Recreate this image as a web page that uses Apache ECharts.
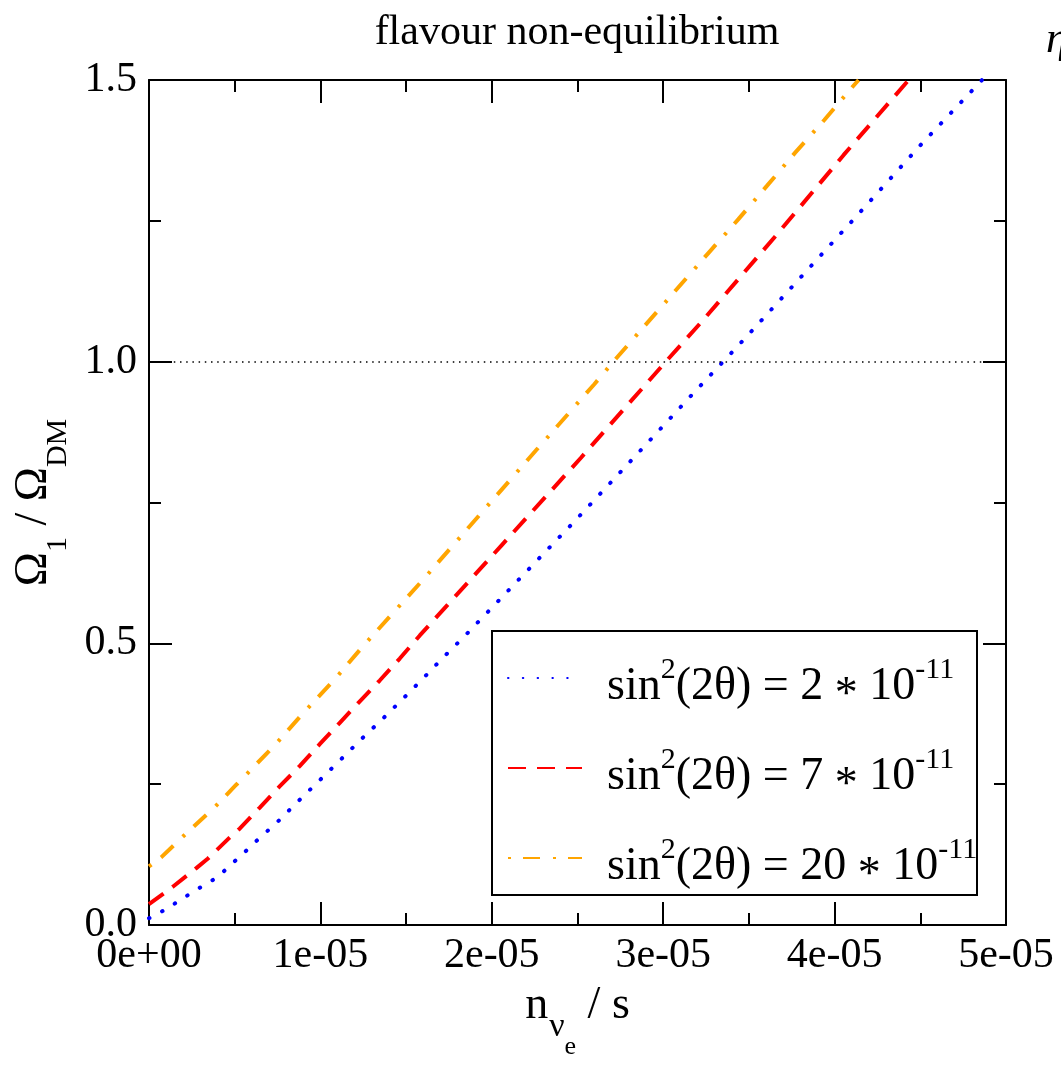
<!DOCTYPE html>
<html><head><meta charset="utf-8">
<script src="https://cdn.jsdelivr.net/npm/echarts@6/dist/echarts.min.js"></script>
<style>html,body{margin:0;padding:0;background:#fff}#c{width:1061px;height:1065px}</style>
</head><body><div id="c"></div>
<script>
const chartTitle = 'flavour non-equilibrium';
const cornerText = 'η';
const xTickLabels = ['0e+00', '1e-05', '2e-05', '3e-05', '4e-05', '5e-05'];
const yTickLabels = ['0.0', '0.5', '1.0', '1.5'];
const seriesNames = ['s2', 's7', 's20'];
const legendLabels = [
  '{a|sin}{s|2}{b|(2θ) = 2 }{m|*}{b| 10}{s|-11}',
  '{a|sin}{s|2}{b|(2θ) = 7 }{m|*}{b| 10}{s|-11}',
  '{a|sin}{s|2}{b|(2θ) = 20 }{m|*}{b| 10}{s|-11}'
];
const refLineValue = 1.0;

const xBlue = [0, 0.081e-5, 0.155e-5, 0.227e-5, 0.301e-5, 0.373e-5, 0.439e-5, 0.503e-5, 0.564e-5, 0.626e-5,
  0.753e-5, 0.875e-5, 0.996e-5, 1.113e-5, 1.239e-5, 1.360e-5, 1.483e-5, 1.600e-5, 1.720e-5, 1.839e-5,
  2.135e-5, 2.487e-5, 2.836e-5, 3.182e-5, 3.356e-5, 3.473e-5, 4.103e-5, 4.503e-5, 4.860e-5];
const yBlue = [0.012, 0.025, 0.039, 0.053, 0.067, 0.080, 0.096, 0.114, 0.131, 0.149,
  0.184, 0.221, 0.257, 0.292, 0.330, 0.365, 0.402, 0.438, 0.476, 0.512,
  0.606, 0.718, 0.832, 0.946, 1.002, 1.040, 1.250, 1.385, 1.500];

const xRed = [0, 0.139e-5, 0.276e-5, 0.344e-5, 0.470e-5, 0.529e-5, 0.645e-5, 0.762e-5, 0.879e-5, 0.996e-5,
  1.113e-5, 1.230e-5, 1.346e-5, 1.463e-5, 1.580e-5, 2.057e-5, 2.519e-5, 3.015e-5, 3.216e-5, 3.664e-5,
  4.053e-5, 4.432e-5];
const yRed = [0.037, 0.068, 0.101, 0.118, 0.155, 0.171, 0.208, 0.246, 0.282, 0.321,
  0.359, 0.397, 0.434, 0.473, 0.514, 0.674, 0.829, 1.000, 1.068, 1.226,
  1.367, 1.500];

const xOrange = [0, 0.071e-5, 0.198e-5, 0.383e-5, 0.509e-5, 0.564e-5, 0.739e-5, 0.908e-5, 1.083e-5, 1.249e-5,
  1.590e-5, 1.926e-5, 2.262e-5, 2.598e-5, 2.709e-5, 3.270e-5, 3.439e-5, 3.605e-5, 3.770e-5, 3.940e-5,
  4.105e-5, 4.140e-5];
const yOrange = [0.104, 0.120, 0.157, 0.209, 0.249, 0.266, 0.321, 0.379, 0.436, 0.495,
  0.610, 0.727, 0.844, 0.960, 1.000, 1.195, 1.253, 1.312, 1.371, 1.429,
  1.488, 1.500];

const FONT = 'Liberation Serif';
const zip = (xs, ys) => xs.map((x, i) => [x, ys[i]]);

function xAxisCfg(pos, showLabels) {
  return {
    type: 'value', position: pos, min: 0, max: 5e-5, interval: 1e-5,
    axisLine: { show: true, onZero: false, lineStyle: { color: '#000', width: 2 } },
    axisTick: { show: true, inside: true, length: 23, lineStyle: { color: '#000', width: 2 } },
    minorTick: { show: true, splitNumber: 2, length: 12, lineStyle: { color: '#000', width: 2 } },
    splitLine: { show: false }, minorSplitLine: { show: false },
    axisLabel: {
      show: showLabels, margin: 10, color: '#000', fontFamily: FONT, fontSize: 42,
      formatter: (v, i) => xTickLabels[i]
    }
  };
}
function yAxisCfg(pos, showLabels) {
  return {
    type: 'value', position: pos, min: 0, max: 1.5, interval: 0.5,
    axisLine: { show: true, onZero: false, lineStyle: { color: '#000', width: 2 } },
    axisTick: { show: true, inside: true, length: 23, lineStyle: { color: '#000', width: 2 } },
    minorTick: { show: true, splitNumber: 2, length: 12, lineStyle: { color: '#000', width: 2 } },
    splitLine: { show: false }, minorSplitLine: { show: false },
    axisLabel: {
      show: showLabels, margin: 12, color: '#000', fontFamily: FONT, fontSize: 42,
      formatter: (v, i) => yTickLabels[i]
    }
  };
}

const xBottom = xAxisCfg('bottom', true);
xBottom.name = '{n|n}{v|ν}{e|e}{n| / s}';
xBottom.nameLocation = 'middle';
xBottom.nameGap = 58;
xBottom.nameTextStyle = {
  color: '#000', fontFamily: FONT,
  rich: {
    n: { fontFamily: FONT, fontSize: 46, lineHeight: 46, verticalAlign: 'top', color: '#000' },
    v: { fontFamily: FONT, fontSize: 34, lineHeight: 34, padding: [27, 0, 0, 1], verticalAlign: 'top', color: '#000' },
    e: { fontFamily: FONT, fontSize: 26, lineHeight: 26, padding: [51, 0, 0, 0], verticalAlign: 'top', color: '#000' }
  }
};
const yLeft = yAxisCfg('left', true);
yLeft.name = '{B|Ω}{S|1}{B| / Ω}{S|DM}';
yLeft.nameLocation = 'middle';
yLeft.nameRotate = 90;
yLeft.nameGap = 74;
yLeft.nameTextStyle = {
  color: '#000', fontFamily: FONT,
  rich: {
    B: { fontFamily: FONT, fontSize: 46, lineHeight: 46, verticalAlign: 'top', color: '#000' },
    S: { fontFamily: FONT, fontSize: 30, lineHeight: 30, padding: [33, 0, 0, 0], verticalAlign: 'top', color: '#000' }
  }
};

const richLegend = {
  a: { fontFamily: FONT, fontSize: 46, lineHeight: 46, padding: [8.5, 0, 0, 20], verticalAlign: 'top', color: '#000' },
  b: { fontFamily: FONT, fontSize: 46, lineHeight: 46, padding: [8.5, 0, 0, 0], verticalAlign: 'top', color: '#000' },
  m: { fontFamily: FONT, fontSize: 46, lineHeight: 46, padding: [18, 0, 0, 0], verticalAlign: 'top', color: '#000' },
  s: { fontFamily: FONT, fontSize: 30, lineHeight: 30, verticalAlign: 'top', color: '#000' }
};

const chart = echarts.init(document.getElementById('c'), null, { renderer: 'canvas' });
chart.setOption({
  animation: false,
  backgroundColor: '#fff',
  grid: { left: 149, top: 80, right: 55, bottom: 128, containLabel: false },
  xAxis: [xBottom, xAxisCfg('top', false)],
  yAxis: [yLeft, yAxisCfg('right', false)],
  legend: {
    orient: 'vertical', left: 507, top: 655, padding: 0, itemGap: 26,
    itemWidth: 74, itemHeight: 20, z: 10,
    data: seriesNames,
    itemStyle: { opacity: 0 },
    formatter: name => legendLabels[seriesNames.indexOf(name)],
    textStyle: { fontFamily: FONT, fontSize: 46, color: '#000', rich: richLegend }
  },
  graphic: [
    { type: 'rect', z: 1, shape: { x: 492, y: 631, width: 485, height: 264 },
      style: { fill: '#fff', stroke: '#000', lineWidth: 2 } },
    { type: 'text', x: 577, y: 33, style: { text: chartTitle, font: '42px "Liberation Serif"', fill: '#000', align: 'center', verticalAlign: 'middle' } },
    { type: 'text', x: 1046, y: 40, style: { text: cornerText, font: 'italic 44px "Liberation Serif"', fill: '#000', align: 'left', verticalAlign: 'middle' } }
  ],
  series: [
    {
      name: seriesNames[0], type: 'line', data: zip(xBlue, yBlue), symbol: 'none', showSymbol: false,
      lineStyle: { color: '#0000ff', width: 4, type: [0.5, 14.3], cap: 'round' }, itemStyle: { color: '#0000ff' },
      markLine: {
        silent: true, symbol: 'none', label: { show: false },
        lineStyle: { color: '#000', width: 1.5, type: [1.5, 4.7] },
        data: [{ yAxis: refLineValue }]
      }
    },
    {
      name: seriesNames[1], type: 'line', data: zip(xRed, yRed), symbol: 'none', showSymbol: false,
      lineStyle: { color: '#ff0000', width: 4, type: [18, 11] }, itemStyle: { color: '#ff0000' }
    },
    {
      name: seriesNames[2], type: 'line', data: zip(xOrange, yOrange), symbol: 'none', showSymbol: false,
      lineStyle: { color: '#ffa500', width: 4, type: [3, 12, 17, 13] }, itemStyle: { color: '#ffa500' }
    }
  ]
});
</script></body></html>
